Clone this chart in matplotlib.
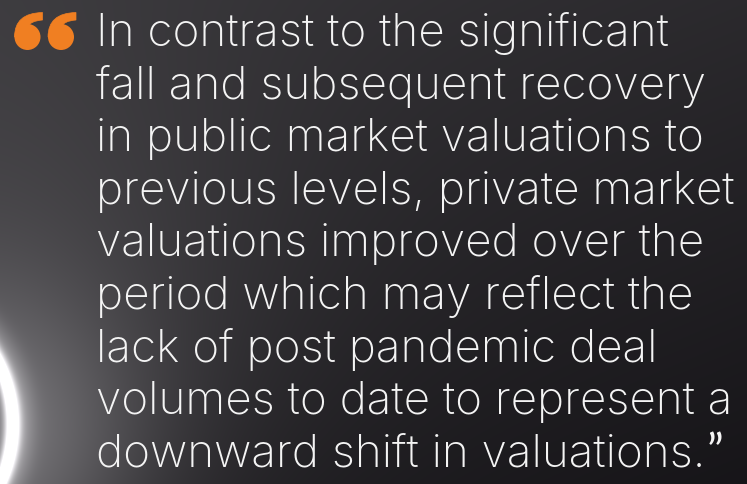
import numpy as np
import matplotlib
matplotlib.use("Agg")
import matplotlib.pyplot as plt
from matplotlib.path import Path
from matplotlib.patches import PathPatch, Circle

W, H = 747, 485
quote_lines = [
    "In contrast to the significant",
    "fall and subsequent recovery",
    "in public market valuations to",
    "previous levels, private market",
    "valuations improved over the",
    "period which may reflect the",
    "lack of post pandemic deal",
    "volumes to date to represent a",
    "downward shift in valuations.",
]
close_mark = "\u201d"

fig = plt.figure(figsize=(W / 100, H / 100), dpi=100)
ax = fig.add_axes([0, 0, 1, 1])
ax.set_xlim(0, W)
ax.set_ylim(H, 0)
ax.axis("off")

# background gradient
yy, xx = np.mgrid[0:H, 0:W].astype(float)
base = 0.215 - 0.05 * (xx / W) - 0.08 * (yy / H)
d = np.hypot(xx + 20, yy - 450)
glow = 0.27 * np.exp(-(d / 150) ** 2) + 0.09 * np.exp(-(np.hypot(xx, yy - 300) / 260) ** 2)
r = np.hypot(xx + 130, yy - 425)
ring = 0.75 * np.exp(-((r - 142) / 8) ** 2)
halo = 0.14 * np.exp(-((r - 152) / 14) ** 2)
v = base + glow + ring + halo
img = np.dstack([v + 0.004, v - 0.002, v + 0.012])
img = np.clip(img, 0, 1)
ax.imshow(img, extent=[0, W, H, 0], aspect="auto", zorder=0)

fam = ["Inter", "DejaVu Sans"]
fs = 33
x0 = 96
y0 = 46
pitch = 52.6
texts = []
for i, line in enumerate(quote_lines):
    t = ax.text(x0, y0 + i * pitch, line, color="#f4f4f4", fontsize=fs,
                family=fam, fontweight="light", va="baseline", ha="left", zorder=3)
    texts.append(t)

# closing quote placed right after the last line
fig.canvas.draw()
bb = texts[-1].get_window_extent()
xe = ax.transData.inverted().transform((bb.x1, bb.y0))[0]
ax.text(xe + 1, y0 + (len(quote_lines) - 1) * pitch, close_mark, color="#f4f4f4",
        fontsize=fs, family=["Lato"], fontweight="normal", va="baseline", ha="left", zorder=3)

# opening quote mark drawn as two "6" shapes
orange = "#f07f22"
for cx in (27.5, 61.0):
    cy, rr = 38.0, 13.0
    ax.add_patch(Circle((cx, cy), rr, color=orange, zorder=3, lw=0))
    verts = [(cx - rr, cy),
             (cx - rr, cy - 24), (cx + 15, cy - 24.5),
             (cx + 15, cy - 17),
             (cx + 2, cy - 16), (cx + 1, cy - 10),
             (cx, cy),
             (cx - rr, cy)]
    codes = [Path.MOVETO, Path.CURVE3, Path.CURVE3, Path.LINETO,
             Path.CURVE3, Path.CURVE3, Path.LINETO, Path.CLOSEPOLY]
    ax.add_patch(PathPatch(Path(verts, codes), fc=orange, ec=orange, lw=0.5, zorder=3))

fig.savefig("out.png", dpi=100)
